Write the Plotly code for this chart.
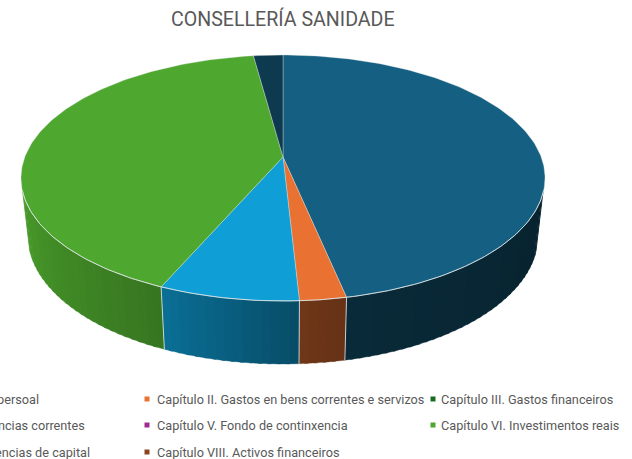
import numpy as np
import plotly.graph_objects as go

title = "CONSELLERÍA SANIDADE"
categories = [
    "Capítulo I. Gastos de persoal",
    "Capítulo II. Gastos en bens correntes e servizos",
    "Capítulo III. Gastos financeiros",
    "Capítulo IV. Transferencias correntes",
    "Capítulo V. Fondo de continxencia",
    "Capítulo VI. Investimentos reais",
    "Capítulo VII. Transferencias de capital",
    "Capítulo VIII. Activos financeiros",
]
values = [46.1, 2.9, 0.0, 8.7, 0.0, 40.5, 1.8, 0.0]
colors = ["#156082", "#E97132", "#196B24", "#0F9ED5", "#A02B93", "#4EA72E", "#0D3A4E", "#8B441E"]
wall_colors = list(colors)

W, H = 632, 459
CX, TOP_CY, TOP_RX, TOP_RY = 283, 178, 262, 123
APEX_Y = 157
BOT_CY, BOT_RX, BOT_RY = 236, 255, 128
SEAM = "rgba(225,232,232,0.8)"


def top(t):
    r = np.radians(t)
    return CX + TOP_RX * np.sin(r), TOP_CY - TOP_RY * np.cos(r)


def bottom(t):
    r = np.radians(t)
    return CX + BOT_RX * np.sin(r), BOT_CY - BOT_RY * np.cos(r)


def shade(hex_color, f):
    c = [int(hex_color[i:i + 2], 16) for i in (1, 3, 5)]
    return "rgb(%d,%d,%d)" % tuple(round(v * f) for v in c)


def brightness(t):
    return float(np.interp(t, [97, 166, 176, 207, 263], [0.36, 0.44, 0.48, 0.70, 0.92]))


total = sum(values)
edges = np.concatenate([[0], np.cumsum(values)]) / total * 360
fig = go.Figure()


def poly(xs, ys, fill, line=None, width=0.6):
    fig.add_trace(go.Scatter(x=xs, y=ys, mode="lines", fill="toself", fillcolor=fill,
                             line=dict(color=line or fill, width=width),
                             hoverinfo="skip", showlegend=False))


WALL_A, WALL_B = 96, 264
seams = []
for i, v in enumerate(values):
    if v <= 0:
        continue
    a, b = edges[i], edges[i + 1]
    lo, hi = max(a, WALL_A), min(b, WALL_B)
    if hi > lo:
        steps = np.linspace(lo, hi, max(2, int((hi - lo) / 2) + 1))
        for s0, s1 in zip(steps[:-1], steps[1:]):
            # each strip runs on a little past its right end so no gap shows between strips
            ts = np.linspace(s0, min(s1 + 0.8, hi), 4)
            xt, yt = top(ts)
            xb, yb = bottom(ts[::-1])
            col = shade(wall_colors[i], brightness((s0 + s1) / 2))
            poly(list(xt) + list(xb), list(yt) + list(yb), col, width=0.3)
        seams.append(hi)

# Wall seams at the slice boundaries on the visible front
for t in seams:
    if t < WALL_B:
        xt, yt = top(t)
        xb, yb = bottom(t)
        fig.add_trace(go.Scatter(x=[xt, xb], y=[yt, yb], mode="lines", line=dict(color=SEAM, width=1),
                                 hoverinfo="skip", showlegend=False))

# Top face
for i, v in enumerate(values):
    if v <= 0:
        continue
    ts = np.linspace(edges[i], edges[i + 1], max(3, int(v * 3.6) + 2))
    xs, ys = top(ts)
    poly([CX] + list(xs) + [CX], [APEX_Y] + list(ys) + [APEX_Y], colors[i], line="rgba(225,232,232,0.45)", width=0.8)

# Bright rim along the front edge
ts = np.linspace(WALL_A, WALL_B, 160)
xs, ys = top(ts)
fig.add_trace(go.Scatter(x=xs, y=ys, mode="lines", line=dict(color=SEAM, width=1),
                         hoverinfo="skip", showlegend=False))

# Legend (the left column runs off the page, as in the reference)
LEG = [
    (0, 41, 399, None), (1, 155, 399, 147), (2, 439, 399, 433),
    (3, 87, 425, None), (4, 155, 425, 147), (5, 439, 425, 433),
    (6, 92, 452, None), (7, 155, 452, 147),
]
annotations = []
for idx, x, y, mx in LEG:
    if mx is None:
        annotations.append(dict(x=x, y=y, text=categories[idx], xref="x", yref="y", showarrow=False,
                                xanchor="right", yanchor="middle", align="right",
                                font=dict(family="Roboto", size=12.7, color="#595959")))
    else:
        annotations.append(dict(x=x, y=y, text=categories[idx], xref="x", yref="y", showarrow=False,
                                xanchor="left", yanchor="middle",
                                font=dict(family="Roboto", size=12.7, color="#595959")))
        fig.add_trace(go.Scatter(x=[mx], y=[y], mode="markers",
                                 marker=dict(symbol="square", size=5, color=colors[idx]),
                                 hoverinfo="skip", showlegend=False))

annotations.append(dict(x=283, y=19, text=title, xref="x", yref="y", showarrow=False,
                        xanchor="center", yanchor="middle",
                        font=dict(family="Roboto", size=19.6, color="#595959")))

fig.update_layout(
    width=W, height=H, margin=dict(l=0, r=0, t=0, b=0), autosize=False,
    paper_bgcolor="white", plot_bgcolor="white", showlegend=False,
    xaxis=dict(range=[0, W], visible=False, fixedrange=True),
    yaxis=dict(range=[H, 0], visible=False, fixedrange=True),
    annotations=annotations,
)
fig.write_html("out.html", config={"displayModeBar": False},
               post_script="document.body.style.margin='0';document.body.style.overflow='hidden';")
